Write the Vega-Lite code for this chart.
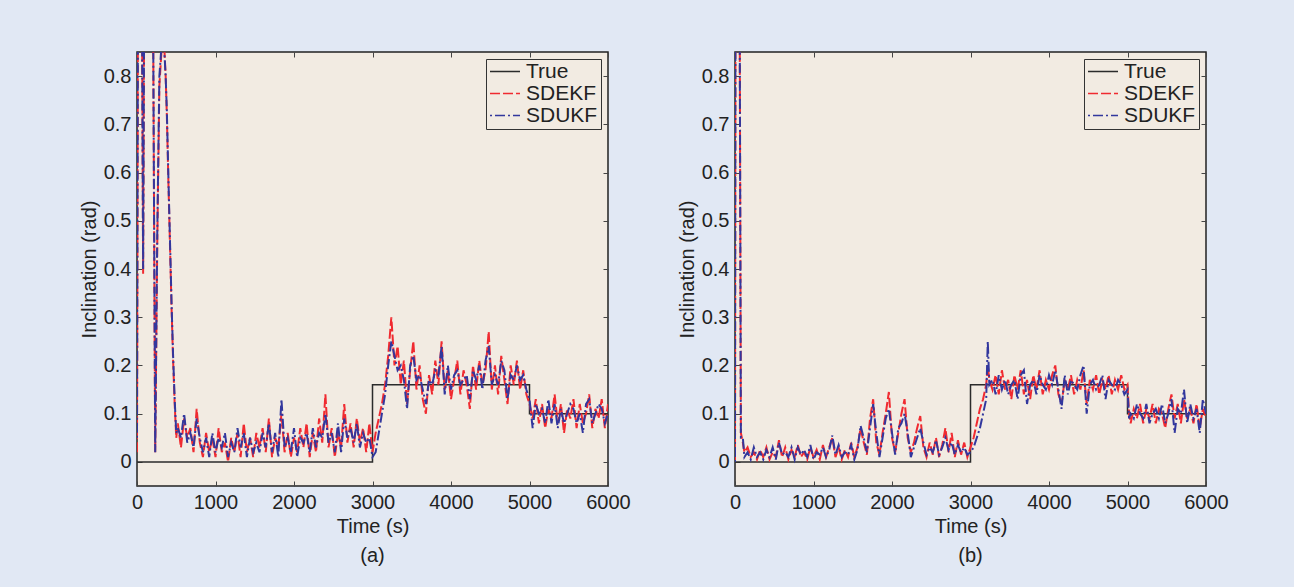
{
"$schema": "https://vega.github.io/schema/vega-lite/v6.json",
"background": "#e1e8f4",
"padding": {"left": 78, "top": 50, "right": 82, "bottom": 20},
"config": {
  "font": "Liberation Sans",
  "view": {"fill": "#f2ebe2", "stroke": "#222222", "strokeWidth": 1.5},
  "axis": {"domain": false, "grid": false, "tickSize": -5, "tickColor": "#444444", "tickWidth": 1, "labelFontSize": 20, "labelColor": "#222222", "titleFontSize": 20, "titleFontWeight": "normal", "titleColor": "#222222", "labelFont": "Liberation Sans", "titleFont": "Liberation Sans", "labelFlush": false, "labelOverlap": false, "labelPadding": 11, "titlePadding": 4},
  "legend": {"orient": "top-right", "offset": 7, "symbolType": "stroke", "symbolSize": 900, "symbolStrokeWidth": 1.5, "labelFontSize": 21, "labelFont": "Liberation Sans", "labelColor": "#222222", "strokeColor": "#333333", "fillColor": "#f2ebe2", "padding": 3, "rowPadding": 0, "clipHeight": 19, "labelOffset": 5},
  "concat": {"spacing": 45},
  "title": {"fontSize": 20, "fontWeight": "normal", "color": "#222222", "font": "Liberation Sans"}
},
"resolve": {"scale": {"color": "independent", "strokeDash": "independent"}},
"datasets": {
  "truth": [{"t":0,"v":0},{"t":3000,"v":0.16},{"t":5000,"v":0.1},{"t":6000,"v":0.1}],
  "a": [
{"t":0,"e":0.02,"u":0.05},{"t":15,"e":1.2,"u":1.15},{"t":40,"e":1.5,"u":1.45},{"t":55,"e":1.3,"u":1.25},{"t":78,"e":0.39,"u":0.4},{"t":100,"e":1.3,"u":1.3},{"t":150,"e":1.7,"u":1.7},{"t":200,"e":1.1,"u":1.1},{"t":232,"e":0.02,"u":0.02},{"t":258,"e":0.45,"u":0.47},{"t":285,"e":0.78,"u":0.8},{"t":315,"e":0.86,"u":0.87},{"t":345,"e":0.87,"u":0.86},{"t":365,"e":0.8,"u":0.8},{"t":380,"e":0.72,"u":0.73},{"t":400,"e":0.58,"u":0.59},{"t":420,"e":0.45,"u":0.46},{"t":440,"e":0.32,"u":0.33},{"t":460,"e":0.21,"u":0.22},{"t":480,"e":0.12,"u":0.13},{"t":500,"e":0.05,"u":0.06},
{"t":520,"e":0.08,"u":0.07},{"t":560,"e":0.03,"u":0.05},{"t":600,"e":0.09,"u":0.1},{"t":640,"e":0.05,"u":0.04},{"t":680,"e":0.07,"u":0.06},{"t":720,"e":0.02,"u":0.03},{"t":760,"e":0.11,"u":0.09},{"t":800,"e":0.04,"u":0.05},{"t":840,"e":0.01,"u":0.02},{"t":880,"e":0.06,"u":0.05},{"t":920,"e":0.02,"u":0.01},{"t":960,"e":0.05,"u":0.06},{"t":1000,"e":0.01,"u":0.02},{"t":1040,"e":0.07,"u":0.05},{"t":1080,"e":0.02,"u":0.03},{"t":1120,"e":0.04,"u":0.06},{"t":1160,"e":0.0,"u":0.01},{"t":1200,"e":0.05,"u":0.04},{"t":1240,"e":0.02,"u":0.02},{"t":1280,"e":0.06,"u":0.07},{"t":1320,"e":0.01,"u":0.03},{"t":1360,"e":0.08,"u":0.06},{"t":1400,"e":0.02,"u":0.01},{"t":1440,"e":0.05,"u":0.05},{"t":1480,"e":0.01,"u":0.02},{"t":1520,"e":0.06,"u":0.04},{"t":1560,"e":0.03,"u":0.02},{"t":1600,"e":0.07,"u":0.06},{"t":1640,"e":0.02,"u":0.03},{"t":1680,"e":0.09,"u":0.08},{"t":1720,"e":0.01,"u":0.02},{"t":1760,"e":0.05,"u":0.06},{"t":1800,"e":0.03,"u":0.01},{"t":1840,"e":0.1,"u":0.13},{"t":1880,"e":0.02,"u":0.03},{"t":1920,"e":0.06,"u":0.05},{"t":1960,"e":0.01,"u":0.02},{"t":2000,"e":0.05,"u":0.07},{"t":2040,"e":0.02,"u":0.01},{"t":2080,"e":0.07,"u":0.05},{"t":2120,"e":0.03,"u":0.04},{"t":2160,"e":0.08,"u":0.06},{"t":2200,"e":0.01,"u":0.02},{"t":2240,"e":0.06,"u":0.07},{"t":2280,"e":0.02,"u":0.03},{"t":2320,"e":0.09,"u":0.06},{"t":2360,"e":0.04,"u":0.05},{"t":2400,"e":0.14,"u":0.1},{"t":2440,"e":0.03,"u":0.04},{"t":2480,"e":0.07,"u":0.06},{"t":2520,"e":0.01,"u":0.02},{"t":2560,"e":0.06,"u":0.08},{"t":2600,"e":0.03,"u":0.02},{"t":2640,"e":0.12,"u":0.09},{"t":2680,"e":0.04,"u":0.05},{"t":2720,"e":0.08,"u":0.07},{"t":2760,"e":0.03,"u":0.04},{"t":2800,"e":0.09,"u":0.08},{"t":2840,"e":0.04,"u":0.03},{"t":2880,"e":0.07,"u":0.06},{"t":2920,"e":0.02,"u":0.04},{"t":2960,"e":0.08,"u":0.05},{"t":3000,"e":0.02,"u":0.01},
{"t":3040,"e":0.06,"u":0.02},{"t":3080,"e":0.09,"u":0.06},{"t":3120,"e":0.12,"u":0.1},{"t":3160,"e":0.16,"u":0.14},{"t":3200,"e":0.22,"u":0.2},{"t":3240,"e":0.3,"u":0.25},{"t":3280,"e":0.2,"u":0.22},{"t":3320,"e":0.24,"u":0.19},{"t":3360,"e":0.16,"u":0.2},{"t":3400,"e":0.21,"u":0.17},{"t":3440,"e":0.12,"u":0.11},{"t":3480,"e":0.19,"u":0.2},{"t":3520,"e":0.25,"u":0.22},{"t":3560,"e":0.15,"u":0.17},{"t":3600,"e":0.2,"u":0.18},{"t":3640,"e":0.13,"u":0.15},{"t":3680,"e":0.1,"u":0.12},{"t":3720,"e":0.18,"u":0.17},{"t":3760,"e":0.14,"u":0.16},{"t":3800,"e":0.21,"u":0.19},{"t":3840,"e":0.16,"u":0.18},{"t":3880,"e":0.25,"u":0.24},{"t":3920,"e":0.15,"u":0.14},{"t":3960,"e":0.19,"u":0.2},{"t":4000,"e":0.13,"u":0.15},{"t":4040,"e":0.17,"u":0.18},{"t":4080,"e":0.21,"u":0.19},{"t":4120,"e":0.14,"u":0.16},{"t":4160,"e":0.19,"u":0.17},{"t":4200,"e":0.16,"u":0.18},{"t":4240,"e":0.11,"u":0.13},{"t":4280,"e":0.2,"u":0.19},{"t":4320,"e":0.15,"u":0.17},{"t":4360,"e":0.21,"u":0.2},{"t":4400,"e":0.16,"u":0.15},{"t":4440,"e":0.19,"u":0.21},{"t":4480,"e":0.27,"u":0.24},{"t":4520,"e":0.15,"u":0.16},{"t":4560,"e":0.2,"u":0.18},{"t":4600,"e":0.14,"u":0.16},{"t":4640,"e":0.22,"u":0.21},{"t":4680,"e":0.17,"u":0.19},{"t":4720,"e":0.12,"u":0.13},{"t":4760,"e":0.2,"u":0.18},{"t":4800,"e":0.16,"u":0.17},{"t":4840,"e":0.21,"u":0.2},{"t":4880,"e":0.15,"u":0.17},{"t":4920,"e":0.19,"u":0.18},{"t":4960,"e":0.14,"u":0.15},{"t":5000,"e":0.12,"u":0.13},
{"t":5040,"e":0.09,"u":0.07},{"t":5080,"e":0.13,"u":0.12},{"t":5120,"e":0.08,"u":0.1},{"t":5160,"e":0.12,"u":0.11},{"t":5200,"e":0.07,"u":0.08},{"t":5240,"e":0.11,"u":0.13},{"t":5280,"e":0.09,"u":0.08},{"t":5320,"e":0.14,"u":0.12},{"t":5360,"e":0.08,"u":0.07},{"t":5400,"e":0.12,"u":0.11},{"t":5440,"e":0.06,"u":0.08},{"t":5480,"e":0.11,"u":0.1},{"t":5520,"e":0.09,"u":0.12},{"t":5560,"e":0.13,"u":0.11},{"t":5600,"e":0.07,"u":0.08},{"t":5640,"e":0.12,"u":0.1},{"t":5680,"e":0.08,"u":0.06},{"t":5720,"e":0.1,"u":0.12},{"t":5760,"e":0.14,"u":0.13},{"t":5800,"e":0.07,"u":0.08},{"t":5840,"e":0.11,"u":0.1},{"t":5880,"e":0.09,"u":0.12},{"t":5920,"e":0.13,"u":0.11},{"t":5960,"e":0.07,"u":0.08},{"t":6000,"e":0.12,"u":0.1}
  ],
  "b": [
{"t":0,"e":0.0,"u":0.0},{"t":8,"e":1.3,"u":1.3},{"t":30,"e":1.8,"u":1.8},{"t":55,"e":1.2,"u":1.2},{"t":75,"e":0.06,"u":0.05},{"t":100,"e":0.04,"u":0.05},{"t":120,"e":0.02,"u":0.01},
{"t":160,"e":0.03,"u":0.02},{"t":200,"e":0.01,"u":0.005},{"t":240,"e":0.02,"u":0.03},{"t":280,"e":0.005,"u":0.01},{"t":320,"e":0.025,"u":0.02},{"t":360,"e":0.01,"u":0.005},{"t":400,"e":0.03,"u":0.025},{"t":440,"e":0.005,"u":0.01},{"t":480,"e":0.02,"u":0.03},{"t":520,"e":0.01,"u":0.005},{"t":560,"e":0.045,"u":0.04},{"t":600,"e":0.01,"u":0.015},{"t":640,"e":0.03,"u":0.02},{"t":680,"e":0.005,"u":0.01},{"t":720,"e":0.025,"u":0.03},{"t":760,"e":0.01,"u":0.005},{"t":800,"e":0.035,"u":0.03},{"t":840,"e":0.01,"u":0.015},{"t":880,"e":0.02,"u":0.025},{"t":920,"e":0.005,"u":0.01},{"t":960,"e":0.03,"u":0.035},{"t":1000,"e":0.01,"u":0.005},{"t":1040,"e":0.025,"u":0.02},{"t":1080,"e":0.005,"u":0.015},{"t":1120,"e":0.035,"u":0.03},{"t":1160,"e":0.01,"u":0.01},{"t":1200,"e":0.03,"u":0.025},{"t":1240,"e":0.05,"u":0.055},{"t":1280,"e":0.01,"u":0.015},{"t":1320,"e":0.03,"u":0.035},{"t":1360,"e":0.005,"u":0.01},{"t":1400,"e":0.025,"u":0.02},{"t":1440,"e":0.01,"u":0.015},{"t":1480,"e":0.04,"u":0.035},{"t":1520,"e":0.01,"u":0.005},{"t":1560,"e":0.03,"u":0.025},{"t":1600,"e":0.07,"u":0.075},{"t":1640,"e":0.04,"u":0.05},{"t":1680,"e":0.015,"u":0.02},{"t":1720,"e":0.09,"u":0.07},{"t":1760,"e":0.13,"u":0.12},{"t":1800,"e":0.04,"u":0.06},{"t":1840,"e":0.015,"u":0.01},{"t":1880,"e":0.06,"u":0.05},{"t":1920,"e":0.1,"u":0.09},{"t":1960,"e":0.145,"u":0.11},{"t":2000,"e":0.05,"u":0.06},{"t":2040,"e":0.02,"u":0.015},{"t":2080,"e":0.06,"u":0.07},{"t":2120,"e":0.1,"u":0.08},{"t":2160,"e":0.13,"u":0.1},{"t":2200,"e":0.05,"u":0.06},{"t":2240,"e":0.02,"u":0.01},{"t":2280,"e":0.04,"u":0.03},{"t":2320,"e":0.07,"u":0.05},{"t":2360,"e":0.095,"u":0.07},{"t":2400,"e":0.03,"u":0.04},{"t":2440,"e":0.01,"u":0.015},{"t":2480,"e":0.04,"u":0.03},{"t":2520,"e":0.015,"u":0.02},{"t":2560,"e":0.05,"u":0.045},{"t":2600,"e":0.01,"u":0.015},{"t":2640,"e":0.035,"u":0.03},{"t":2680,"e":0.07,"u":0.05},{"t":2720,"e":0.02,"u":0.025},{"t":2760,"e":0.06,"u":0.04},{"t":2800,"e":0.01,"u":0.015},{"t":2840,"e":0.045,"u":0.035},{"t":2880,"e":0.015,"u":0.02},{"t":2920,"e":0.04,"u":0.03},{"t":2960,"e":0.01,"u":0.015},{"t":3000,"e":0.03,"u":0.02},
{"t":3040,"e":0.05,"u":0.03},{"t":3080,"e":0.08,"u":0.05},{"t":3120,"e":0.11,"u":0.07},{"t":3160,"e":0.13,"u":0.1},{"t":3200,"e":0.16,"u":0.13},{"t":3220,"e":0.2,"u":0.25},{"t":3240,"e":0.17,"u":0.16},{"t":3280,"e":0.15,"u":0.17},{"t":3320,"e":0.18,"u":0.14},{"t":3360,"e":0.14,"u":0.18},{"t":3400,"e":0.19,"u":0.15},{"t":3440,"e":0.15,"u":0.17},{"t":3480,"e":0.17,"u":0.14},{"t":3520,"e":0.13,"u":0.16},{"t":3560,"e":0.18,"u":0.17},{"t":3600,"e":0.15,"u":0.13},{"t":3640,"e":0.19,"u":0.18},{"t":3680,"e":0.14,"u":0.19},{"t":3720,"e":0.17,"u":0.12},{"t":3760,"e":0.13,"u":0.16},{"t":3800,"e":0.18,"u":0.17},{"t":3840,"e":0.15,"u":0.14},{"t":3880,"e":0.19,"u":0.18},{"t":3920,"e":0.14,"u":0.16},{"t":3960,"e":0.17,"u":0.15},{"t":4000,"e":0.15,"u":0.18},{"t":4040,"e":0.18,"u":0.16},{"t":4080,"e":0.2,"u":0.19},{"t":4120,"e":0.14,"u":0.15},{"t":4160,"e":0.12,"u":0.11},{"t":4200,"e":0.17,"u":0.18},{"t":4240,"e":0.15,"u":0.14},{"t":4280,"e":0.18,"u":0.17},{"t":4320,"e":0.14,"u":0.16},{"t":4360,"e":0.17,"u":0.15},{"t":4400,"e":0.15,"u":0.18},{"t":4440,"e":0.19,"u":0.2},{"t":4480,"e":0.12,"u":0.1},{"t":4520,"e":0.17,"u":0.16},{"t":4560,"e":0.15,"u":0.17},{"t":4600,"e":0.18,"u":0.15},{"t":4640,"e":0.14,"u":0.16},{"t":4680,"e":0.17,"u":0.18},{"t":4720,"e":0.15,"u":0.13},{"t":4760,"e":0.18,"u":0.17},{"t":4800,"e":0.14,"u":0.16},{"t":4840,"e":0.17,"u":0.15},{"t":4880,"e":0.15,"u":0.17},{"t":4920,"e":0.18,"u":0.16},{"t":4960,"e":0.15,"u":0.14},{"t":5000,"e":0.16,"u":0.15},
{"t":5020,"e":0.1,"u":0.09},{"t":5040,"e":0.08,"u":0.1},{"t":5080,"e":0.11,"u":0.09},{"t":5120,"e":0.09,"u":0.12},{"t":5160,"e":0.12,"u":0.1},{"t":5200,"e":0.08,"u":0.09},{"t":5240,"e":0.11,"u":0.12},{"t":5280,"e":0.09,"u":0.08},{"t":5320,"e":0.12,"u":0.1},{"t":5360,"e":0.08,"u":0.11},{"t":5400,"e":0.11,"u":0.09},{"t":5440,"e":0.1,"u":0.12},{"t":5480,"e":0.07,"u":0.08},{"t":5520,"e":0.11,"u":0.1},{"t":5560,"e":0.14,"u":0.13},{"t":5600,"e":0.09,"u":0.06},{"t":5640,"e":0.12,"u":0.11},{"t":5680,"e":0.08,"u":0.1},{"t":5720,"e":0.13,"u":0.15},{"t":5760,"e":0.09,"u":0.08},{"t":5800,"e":0.11,"u":0.12},{"t":5840,"e":0.08,"u":0.09},{"t":5880,"e":0.12,"u":0.11},{"t":5920,"e":0.07,"u":0.06},{"t":5960,"e":0.11,"u":0.13},{"t":6000,"e":0.09,"u":0.1}
  ]
},
"hconcat": [
 {
  "width": 471, "height": 434,
  "title": {"text": "(a)", "orient": "bottom", "frame": "group", "anchor": "middle", "offset": 10},
  "resolve": {"axis": {"x": "independent", "y": "independent"}},
  "layer": [
   {"data": {"name": "truth"}, "mark": {"type": "line", "interpolate": "step-after", "strokeWidth": 1.5, "clip": true},
    "encoding": {
     "x": {"field": "t", "type": "quantitative", "scale": {"domain": [0, 6000], "nice": false, "zero": false}, "axis": {"orient": "bottom", "values": [0,1000,2000,3000,4000,5000,6000], "format": "d", "title": "Time (s)"}},
     "y": {"field": "v", "type": "quantitative", "scale": {"domain": [-0.05, 0.85], "nice": false, "zero": false}, "axis": {"orient": "left", "values": [0,0.1,0.2,0.3,0.4,0.5,0.6,0.7,0.8], "format": ".1~f", "title": "Inclination (rad)"}},
     "color": {"datum": "True", "type": "nominal", "scale": {"domain": ["True","SDEKF","SDUKF"], "range": ["#2b2b2b","#f02a30","#32379d"]}, "legend": {"title": null}},
     "strokeDash": {"datum": "True", "type": "nominal", "scale": {"domain": ["True","SDEKF","SDUKF"], "range": [[1,0],[10,3],[2,3,10,3]]}, "legend": {"title": null}}
    }},
   {"data": {"name": "a"}, "mark": {"type": "line", "strokeWidth": 2, "clip": true},
    "encoding": {
     "x": {"field": "t", "type": "quantitative", "scale": {"domain": [0, 6000], "nice": false, "zero": false}, "axis": {"orient": "top", "values": [0,1000,2000,3000,4000,5000,6000], "labels": false, "title": null}},
     "y": {"field": "e", "type": "quantitative", "scale": {"domain": [-0.05, 0.85], "nice": false, "zero": false}, "axis": {"orient": "right", "values": [0,0.1,0.2,0.3,0.4,0.5,0.6,0.7,0.8], "labels": false, "title": null}},
     "color": {"datum": "SDEKF", "type": "nominal", "scale": {"domain": ["True","SDEKF","SDUKF"], "range": ["#2b2b2b","#f02a30","#32379d"]}, "legend": {"title": null}},
     "strokeDash": {"datum": "SDEKF", "type": "nominal", "scale": {"domain": ["True","SDEKF","SDUKF"], "range": [[1,0],[10,3],[2,3,10,3]]}, "legend": {"title": null}}
    }},
   {"data": {"name": "a"}, "mark": {"type": "line", "strokeWidth": 2, "clip": true},
    "encoding": {
     "x": {"field": "t", "type": "quantitative", "scale": {"domain": [0, 6000], "nice": false, "zero": false}, "axis": null},
     "y": {"field": "u", "type": "quantitative", "scale": {"domain": [-0.05, 0.85], "nice": false, "zero": false}, "axis": null},
     "color": {"datum": "SDUKF", "type": "nominal", "scale": {"domain": ["True","SDEKF","SDUKF"], "range": ["#2b2b2b","#f02a30","#32379d"]}, "legend": {"title": null}},
     "strokeDash": {"datum": "SDUKF", "type": "nominal", "scale": {"domain": ["True","SDEKF","SDUKF"], "range": [[1,0],[10,3],[2,3,10,3]]}, "legend": {"title": null}}
    }}
  ]
 },
 {
  "width": 471, "height": 434,
  "title": {"text": "(b)", "orient": "bottom", "frame": "group", "anchor": "middle", "offset": 10},
  "resolve": {"axis": {"x": "independent", "y": "independent"}},
  "layer": [
   {"data": {"name": "truth"}, "mark": {"type": "line", "interpolate": "step-after", "strokeWidth": 1.5, "clip": true},
    "encoding": {
     "x": {"field": "t", "type": "quantitative", "scale": {"domain": [0, 6000], "nice": false, "zero": false}, "axis": {"orient": "bottom", "values": [0,1000,2000,3000,4000,5000,6000], "format": "d", "title": "Time (s)"}},
     "y": {"field": "v", "type": "quantitative", "scale": {"domain": [-0.05, 0.85], "nice": false, "zero": false}, "axis": {"orient": "left", "values": [0,0.1,0.2,0.3,0.4,0.5,0.6,0.7,0.8], "format": ".1~f", "title": "Inclination (rad)"}},
     "color": {"datum": "True", "type": "nominal", "scale": {"domain": ["True","SDEKF","SDUKF"], "range": ["#2b2b2b","#f02a30","#32379d"]}, "legend": {"title": null}},
     "strokeDash": {"datum": "True", "type": "nominal", "scale": {"domain": ["True","SDEKF","SDUKF"], "range": [[1,0],[10,3],[2,3,10,3]]}, "legend": {"title": null}}
    }},
   {"data": {"name": "b"}, "mark": {"type": "line", "strokeWidth": 2, "clip": true},
    "encoding": {
     "x": {"field": "t", "type": "quantitative", "scale": {"domain": [0, 6000], "nice": false, "zero": false}, "axis": {"orient": "top", "values": [0,1000,2000,3000,4000,5000,6000], "labels": false, "title": null}},
     "y": {"field": "e", "type": "quantitative", "scale": {"domain": [-0.05, 0.85], "nice": false, "zero": false}, "axis": {"orient": "right", "values": [0,0.1,0.2,0.3,0.4,0.5,0.6,0.7,0.8], "labels": false, "title": null}},
     "color": {"datum": "SDEKF", "type": "nominal", "scale": {"domain": ["True","SDEKF","SDUKF"], "range": ["#2b2b2b","#f02a30","#32379d"]}, "legend": {"title": null}},
     "strokeDash": {"datum": "SDEKF", "type": "nominal", "scale": {"domain": ["True","SDEKF","SDUKF"], "range": [[1,0],[10,3],[2,3,10,3]]}, "legend": {"title": null}}
    }},
   {"data": {"name": "b"}, "mark": {"type": "line", "strokeWidth": 2, "clip": true},
    "encoding": {
     "x": {"field": "t", "type": "quantitative", "scale": {"domain": [0, 6000], "nice": false, "zero": false}, "axis": null},
     "y": {"field": "u", "type": "quantitative", "scale": {"domain": [-0.05, 0.85], "nice": false, "zero": false}, "axis": null},
     "color": {"datum": "SDUKF", "type": "nominal", "scale": {"domain": ["True","SDEKF","SDUKF"], "range": ["#2b2b2b","#f02a30","#32379d"]}, "legend": {"title": null}},
     "strokeDash": {"datum": "SDUKF", "type": "nominal", "scale": {"domain": ["True","SDEKF","SDUKF"], "range": [[1,0],[10,3],[2,3,10,3]]}, "legend": {"title": null}}
    }}
  ]
 }
]
}
